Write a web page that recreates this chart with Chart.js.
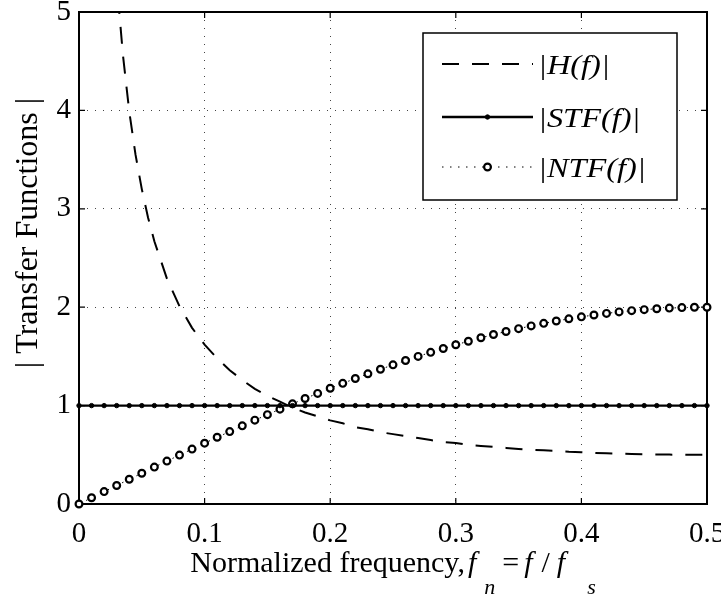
<!DOCTYPE html>
<html>
<head>
<meta charset="utf-8">
<script src="https://cdn.jsdelivr.net/npm/chart.js@4.4.1/dist/chart.umd.min.js"></script>
<style>
    html, body { margin: 0; padding: 0; background: #fff; }
    #wrap { width: 721px; height: 596px; }
</style>
</head>
<body>
<div id="wrap"><canvas id="tfChart" width="721" height="596"></canvas></div>
<script>
// ====================== DATA ======================
const freq = [0, 0.01, 0.02, 0.03, 0.04, 0.05, 0.06, 0.07, 0.08, 0.09,
    0.10, 0.11, 0.12, 0.13, 0.14, 0.15, 0.16, 0.17, 0.18, 0.19,
    0.20, 0.21, 0.22, 0.23, 0.24, 0.25, 0.26, 0.27, 0.28, 0.29,
    0.30, 0.31, 0.32, 0.33, 0.34, 0.35, 0.36, 0.37, 0.38, 0.39,
    0.40, 0.41, 0.42, 0.43, 0.44, 0.45, 0.46, 0.47, 0.48, 0.49, 0.50];

const stfValues = [1, 1, 1, 1, 1, 1, 1, 1, 1, 1,
    1, 1, 1, 1, 1, 1, 1, 1, 1, 1,
    1, 1, 1, 1, 1, 1, 1, 1, 1, 1,
    1, 1, 1, 1, 1, 1, 1, 1, 1, 1,
    1, 1, 1, 1, 1, 1, 1, 1, 1, 1, 1];

const ntfValues = [0, 0.063, 0.126, 0.188, 0.251, 0.313, 0.375, 0.436, 0.497, 0.558,
    0.618, 0.678, 0.736, 0.794, 0.852, 0.908, 0.964, 1.018, 1.072, 1.124,
    1.176, 1.226, 1.275, 1.323, 1.369, 1.414, 1.458, 1.500, 1.541, 1.580,
    1.618, 1.654, 1.689, 1.722, 1.753, 1.782, 1.810, 1.836, 1.860, 1.882,
    1.902, 1.921, 1.937, 1.952, 1.965, 1.975, 1.984, 1.991, 1.996, 1.999, 2.0];

// |H(f)| is sampled a little finer where it drops steeply
const hFreq = [0.025, 0.03, 0.035, 0.04, 0.045, 0.05, 0.055, 0.06, 0.07, 0.08, 0.09,
    0.10, 0.11, 0.12, 0.13, 0.14, 0.15, 0.16, 0.17, 0.18, 0.19,
    0.20, 0.21, 0.22, 0.23, 0.24, 0.25, 0.26, 0.27, 0.28, 0.29,
    0.30, 0.31, 0.32, 0.33, 0.34, 0.35, 0.36, 0.37, 0.38, 0.39,
    0.40, 0.41, 0.42, 0.43, 0.44, 0.45, 0.46, 0.47, 0.48, 0.49, 0.50];
const hValues = [6.37, 5.31, 4.56, 3.99, 3.55, 3.20, 2.91, 2.67, 2.29, 2.01, 1.79,
    1.62, 1.48, 1.36, 1.26, 1.17, 1.10, 1.04, 0.98, 0.93, 0.89,
    0.85, 0.82, 0.78, 0.76, 0.73, 0.71, 0.69, 0.67, 0.65, 0.63,
    0.62, 0.60, 0.59, 0.58, 0.57, 0.56, 0.55, 0.545, 0.54, 0.53,
    0.526, 0.52, 0.516, 0.512, 0.509, 0.506, 0.504, 0.502, 0.501, 0.50, 0.50];

const seriesNames = ["|H(f)|", "|STF(f)|", "|NTF(f)|"];
const yAxisTitle = "| Transfer Functions |";
const xTicks = [0, 0.1, 0.2, 0.3, 0.4, 0.5];
const yTicks = [0, 1, 2, 3, 4, 5];

const SERIF = '"Liberation Serif", "Times New Roman", serif';

function toPoints(xs, ys) {
    return xs.map((x, i) => ({ x: x, y: ys[i] }));
}

// ====================== PLUGINS ======================
// MATLAB-style box around the axes plus inward tick marks
const axesBox = {
    id: "axesBox",
    beforeDatasetsDraw(chart) {
        const { ctx, chartArea: a, scales } = chart;
        ctx.save();
        ctx.strokeStyle = "#000";
        ctx.lineWidth = 2;
        ctx.strokeRect(a.left, a.top, a.right - a.left, a.bottom - a.top);
        ctx.lineWidth = 1.2;
        ctx.beginPath();
        xTicks.forEach(v => {
            const px = scales.x.getPixelForValue(v);
            ctx.moveTo(px, a.bottom); ctx.lineTo(px, a.bottom - 6);
            ctx.moveTo(px, a.top); ctx.lineTo(px, a.top + 6);
        });
        yTicks.forEach(v => {
            const py = scales.y.getPixelForValue(v);
            ctx.moveTo(a.left, py); ctx.lineTo(a.left + 6, py);
            ctx.moveTo(a.right, py); ctx.lineTo(a.right - 6, py);
        });
        ctx.stroke();
        ctx.restore();
    }
};

// legend box drawn inside the plot, top right
const boxLegend = {
    id: "boxLegend",
    afterDatasetsDraw(chart) {
        const { ctx, chartArea: a } = chart;
        const w = 254, h = 167;
        const x0 = a.right - 30 - w, y0 = a.top + 21;
        ctx.save();
        ctx.fillStyle = "#fff";
        ctx.fillRect(x0, y0, w, h);
        ctx.strokeStyle = "#000";
        ctx.lineWidth = 1.5;
        ctx.strokeRect(x0, y0, w, h);

        const rows = [y0 + 31, y0 + 84, y0 + 134];
        const sx1 = x0 + 19, sx2 = x0 + 110, mid = (sx1 + sx2) / 2;
        chart.data.datasets.forEach((ds, i) => {
            const y = rows[i];
            ctx.beginPath();
            ctx.setLineDash(ds.borderDash || []);
            ctx.lineWidth = ds.borderWidth;
            ctx.strokeStyle = "#000";
            ctx.moveTo(sx1, y); ctx.lineTo(sx2, y);
            ctx.stroke();
            ctx.setLineDash([]);
            if (ds.pointRadius > 0) {
                ctx.beginPath();
                ctx.arc(mid, y, ds.pointRadius, 0, Math.PI * 2);
                ctx.fillStyle = ds.pointBackgroundColor;
                ctx.fill();
                ctx.lineWidth = ds.pointBorderWidth;
                ctx.strokeStyle = "#000";
                ctx.stroke();
            }
            // text is a bit wider than tall in the original, stretch it slightly
            ctx.save();
            ctx.translate(x0 + 115, y + 3);
            ctx.scale(1.2, 1);
            ctx.fillStyle = "#000";
            ctx.font = "italic 27px " + SERIF;
            ctx.textBaseline = "middle";
            ctx.textAlign = "left";
            ctx.fillText(seriesNames[i], 0, 0);
            ctx.restore();
        });
        ctx.restore();
    }
};

// axis titles; the x one has subscripts: Normalized frequency, f_n = f / f_s
const axisTitles = {
    id: "axisTitles",
    afterDraw(chart) {
        const { ctx, chartArea: a } = chart;
        const base = 572, subBase = 594;
        const up = "30px " + SERIF, it = "italic 30px " + SERIF, sub = "italic 22px " + SERIF;
        const parts = [
            { t: "Normalized frequency,", f: up, y: base },
            { t: "f", f: it, y: base, gap: 3 },
            { t: "n", f: sub, y: subBase, gap: 8 },
            { t: "=", f: up, y: base, gap: 7 },
            { t: "f", f: it, y: base, gap: 5 },
            { t: "/", f: up, y: base, gap: 9 },
            { t: "f", f: it, y: base, gap: 7 },
            { t: "s", f: sub, y: subBase, gap: 22 }
        ];
        ctx.save();
        let total = 0;
        parts.forEach(p => { ctx.font = p.f; p.w = ctx.measureText(p.t).width; total += p.w + (p.gap || 0); });
        let x = (a.left + a.right) / 2 - total / 2;
        ctx.fillStyle = "#000";
        ctx.textBaseline = "alphabetic";
        ctx.textAlign = "left";
        parts.forEach(p => {
            x += p.gap || 0;
            ctx.font = p.f;
            ctx.fillText(p.t, x, p.y);
            x += p.w;
        });

        // rotated y title
        ctx.translate(29, 233);
        ctx.rotate(-Math.PI / 2);
        ctx.font = "32px " + SERIF;
        ctx.textAlign = "center";
        ctx.textBaseline = "middle";
        ctx.fillText(yAxisTitle, 0, 0);
        ctx.restore();
    }
};

// ====================== CHART ======================
const ctx = document.getElementById("tfChart").getContext("2d");
new Chart(ctx, {
    type: "line",
    data: {
        datasets: [
            {
                label: seriesNames[0],
                data: toPoints(hFreq, hValues),
                borderColor: "#000",
                borderWidth: 2,
                borderDash: [17, 13],
                pointRadius: 0,
                tension: 0
            },
            {
                label: seriesNames[1],
                data: toPoints(freq, stfValues),
                borderColor: "#000",
                borderWidth: 2.4,
                pointRadius: 2.2,
                pointBorderWidth: 1,
                pointBackgroundColor: "#000",
                pointBorderColor: "#000",
                clip: false,
                tension: 0
            },
            {
                label: seriesNames[2],
                data: toPoints(freq, ntfValues),
                borderColor: "#000",
                borderWidth: 1,
                borderDash: [1.5, 6.5],
                pointRadius: 3.4,
                pointBorderWidth: 2.2,
                pointBackgroundColor: "#fff",
                pointBorderColor: "#000",
                clip: false,
                tension: 0
            }
        ]
    },
    options: {
        responsive: false,
        animation: false,
        layout: { padding: { top: 12, right: 14, left: 0, bottom: 0 } },
        plugins: {
            legend: { display: false },
            tooltip: { enabled: false }
        },
        scales: {
            x: {
                type: "linear",
                min: 0,
                max: 0.5,
                afterBuildTicks: s => { s.ticks = xTicks.map(v => ({ value: v })); },
                afterFit: s => { s.height = 92; s.paddingLeft = 0; s.paddingRight = 0; },
                ticks: {
                    color: "#000",
                    padding: 13,
                    maxRotation: 0,
                    autoSkip: false,
                    font: { family: SERIF, size: 29 },
                    callback: v => String(v)
                },
                grid: { color: "#444", lineWidth: 1, drawTicks: false },
                border: { display: false, dash: [1, 7] }
            },
            y: {
                type: "linear",
                min: 0,
                max: 5,
                afterBuildTicks: s => { s.ticks = yTicks.map(v => ({ value: v })); },
                afterFit: s => { s.width = 79; s.paddingTop = 0; s.paddingBottom = 0; },
                ticks: {
                    color: "#000",
                    padding: 8,
                    font: { family: SERIF, size: 29 },
                    callback: v => String(v)
                },
                grid: { color: "#444", lineWidth: 1, drawTicks: false },
                border: { display: false, dash: [1, 7] }
            }
        }
    },
    plugins: [axesBox, boxLegend, axisTitles]
});
</script>
</body>
</html>
